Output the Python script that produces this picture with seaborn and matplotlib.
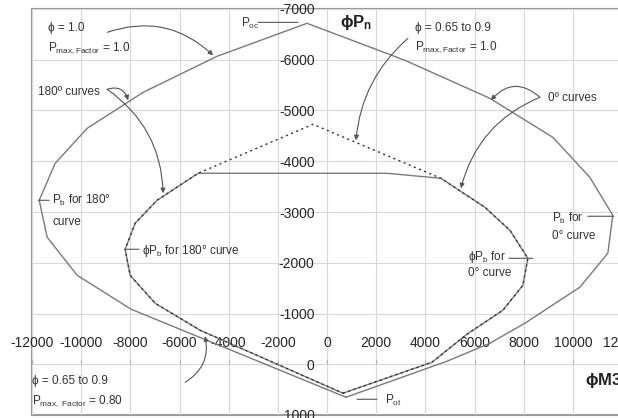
import numpy as np
import pandas as pd
import matplotlib
matplotlib.use('Agg')
import matplotlib.pyplot as plt
import seaborn as sns

# ---- data (M3 along x, P along y, compression negative)
# phi = 1.0, Pmax factor = 1.0 (Pot -> 0 deg side -> Poc -> 180 deg side -> Pot)
outer_m = [772, 4878, 6626, 8049, 10284, 11423, 11626, 10691, 9187, 6626, 3171, -813,
           -4472, -7480, -9756, -11057, -11707, -11382, -10163, -7967, 772]
outer_p = [650, -59, -414, -808, -1517, -2187, -2935, -3684, -4472, -5240, -5989, -6718,
           -6068, -5358, -4649, -3960, -3231, -2502, -1753, -1084, 650]

# phi = 0.65 to 0.9, Pmax factor = 0.80 (capped top)
inner_m = [650, 4268, 5691, 7154, 7967, 8171, 7439, 6423, 4634, 2439, -5244,
           -6911, -7805, -8211, -8008, -6992, -5163, 650]
inner_p = [571, -39, -591, -1064, -1556, -2088, -2640, -3093, -3664, -3763, -3763,
           -3231, -2778, -2266, -1753, -1202, -670, 571]

# phi = 0.65 to 0.9, Pmax factor = 1.0 (dotted, runs to the peak)
dot_m = [650, 4268, 5691, 7154, 7967, 8171, 7439, 6423, 4634, -569, -5244,
         -6911, -7805, -8211, -8008, -6992, -5163, 650]
dot_p = [571, -39, -591, -1064, -1556, -2088, -2640, -3093, -3664, -4728, -3763,
         -3231, -2778, -2266, -1753, -1202, -670, 571]

xticks = list(range(-12000, 12001, 2000))
yticks = list(range(-7000, 1001, 1000))

outer = pd.DataFrame({'M': outer_m, 'P': outer_p})
inner = pd.DataFrame({'M': inner_m, 'P': inner_p})
dotted = pd.DataFrame({'M': dot_m, 'P': dot_p})

sns.set_style('white')
plt.rcParams['font.family'] = ['Liberation Sans', 'DejaVu Sans']
plt.rcParams['mathtext.fontset'] = 'custom'
plt.rcParams['mathtext.rm'] = 'Liberation Sans'
plt.rcParams['mathtext.it'] = 'Liberation Sans:italic'
plt.rcParams['mathtext.bf'] = 'Liberation Sans:bold'

fig = plt.figure(figsize=(6.18, 4.18), dpi=100)
ax = fig.add_axes([32/618, 3/418, 590/618, 406/418])

line_c = '#7a7a7a'
sns.lineplot(data=outer, x='M', y='P', sort=False, estimator=None, ax=ax, color=line_c, lw=1.0)
sns.lineplot(data=inner, x='M', y='P', sort=False, estimator=None, ax=ax, color=line_c, lw=1.0)
sns.lineplot(data=dotted, x='M', y='P', sort=False, estimator=None, ax=ax, color='#333333',
             lw=1.0, linestyle=(0, (1.5, 2.5)))

ax.set_xlim(-12000, 12000)
ax.set_ylim(1000, -7000)
ax.set_xticks(xticks)
ax.set_yticks(yticks)
ax.set_xticklabels([str(t) for t in xticks], fontweight='bold', fontsize=9)
ax.set_yticklabels([str(t) for t in yticks], fontweight='bold', fontsize=9)
ax.set_xlabel('')
ax.set_ylabel('')

# axes through the origin, labels above / left of them
ax.xaxis.set_ticks_position('top')
ax.spines['top'].set_position(('data', 0))
ax.spines['left'].set_position(('data', 0))
ax.spines['top'].set_visible(False)
ax.spines['left'].set_visible(False)
ax.spines['bottom'].set_visible(False)
ax.spines['right'].set_visible(False)
ax.patch.set_edgecolor('#9a9a9a')
ax.patch.set_linewidth(1.5)
ax.tick_params(axis='x', direction='out', length=3, color='#aaaaaa', pad=7)
ax.tick_params(axis='y', direction='out', length=3, color='#aaaaaa', pad=6)
ax.grid(True, color='#d8d8d8', lw=0.8)
ax.set_axisbelow(True)

tc = '#333333'
fs = 8.5
ac = '#555555'


def arrow(start, end, rad):
    ax.annotate('', xy=end, xytext=start,
                arrowprops=dict(arrowstyle='-|>', connectionstyle='arc3,rad=%s' % rad,
                                color=ac, lw=0.8, shrinkA=0, shrinkB=0, mutation_scale=7))


def leader(start, end):
    ax.annotate('', xy=end, xytext=start,
                arrowprops=dict(arrowstyle='-', color=ac, lw=0.8, shrinkA=0, shrinkB=0))


# phi = 1.0 label
ax.text(-11341, -6619, 'ϕ = 1.0', fontsize=fs, color=tc, va='center')
ax.text(-11341, -6225, r'P$_{\rm max,Factor}$ = 1.0', fontsize=fs, color=tc, va='center')
arrow((-8943, -6540), (-4634, -6087), -0.3)

# 180 deg curves
ax.text(-11748, -5358, '180º curves', fontsize=fs, color=tc, va='center')
arrow((-8943, -5418), (-8089, -5201), -0.5)
arrow((-8943, -5418), (-6667, -3369), -0.25)

# phi = 0.65 to 0.9, Pmax = 1.0
ax.text(3577, -6619, 'ϕ = 0.65 to 0.9', fontsize=fs, color=tc, va='center')
ax.text(3577, -6245, r'P$_{\rm max,Factor}$ = 1.0', fontsize=fs, color=tc, va='center')
arrow((3293, -6422), (1179, -4413), 0.2)

# 0 deg curves
ax.text(8984, -5240, '0º curves', fontsize=fs, color=tc, va='center')
arrow((8658, -5260), (6667, -5201), 0.5)
arrow((8658, -5260), (5447, -3467), 0.25)

# phi = 0.65 to 0.9, Pmax = 0.80
ax.text(-11992, 335, 'ϕ = 0.65 to 0.9', fontsize=fs, color=tc, va='center')
ax.text(-11992, 729, r'P$_{\rm max,\ Factor}$ = 0.80', fontsize=fs, color=tc, va='center')
arrow((-5772, 355), (-4959, -552), 0.35)

# balance points and end points
ax.text(-11179, -3231, r'P$_{\rm b}$ for 180°', fontsize=fs, color=tc, va='center')
ax.text(-11179, -2797, 'curve', fontsize=fs, color=tc, va='center')
leader((-11748, -3231), (-11301, -3231))

ax.text(-7520, -2226, r'ϕP$_{\rm b}$ for 180° curve', fontsize=fs, color=tc, va='center')
leader((-8211, -2266), (-7642, -2266))

ax.text(9146, -2876, r'P$_{\rm b}$ for', fontsize=fs, color=tc, va='center')
ax.text(9146, -2522, '0° curve', fontsize=fs, color=tc, va='center')
leader((10610, -2916), (11667, -2916))

ax.text(5732, -2108, r'ϕP$_{\rm b}$ for', fontsize=fs, color=tc, va='center')
ax.text(5732, -1793, '0° curve', fontsize=fs, color=tc, va='center')
leader((7398, -2088), (8374, -2088))

ax.text(-3496, -6718, r'P$_{\rm oc}$', fontsize=fs, color=tc, va='center')
leader((-2805, -6737), (-1179, -6737))

ax.text(2358, 709, r'P$_{\rm ot}$', fontsize=fs, color=tc, va='center')
leader((1220, 690), (2033, 690))

# axis titles drawn inside the plot
ax.text(528, -6737, r'ϕP$_{\bf n}$', fontsize=12, fontweight='bold', color='#222222', va='center')
ax.text(10488, 315, r'ϕM3$_{\bf r}$', fontsize=12, fontweight='bold', color='#222222', va='center')

fig.savefig('out.png', dpi=100)
